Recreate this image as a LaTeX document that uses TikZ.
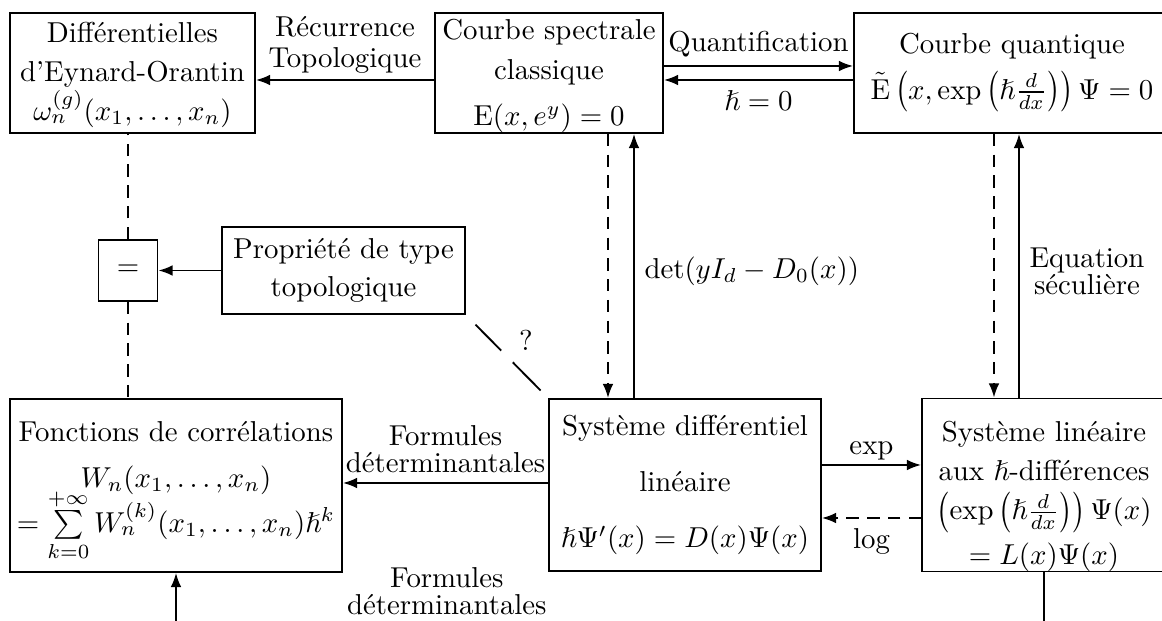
\documentclass[tikz,border=0pt]{standalone}
\usepackage{amsmath,amssymb}
\usepackage{graphicx}
\usepackage{fontspec}
\usetikzlibrary{arrows.meta,calc}
\newcommand\lpar{\mathopen{\vcenter{\hbox{\scalebox{1}[1.18]{$\bigl($}}}}}
\newcommand\rpar{\mathclose{\vcenter{\hbox{\scalebox{1}[1.18]{$\bigr)$}}}}}
\begin{document}
\begin{tikzpicture}[x=0.3472pt,y=-0.3472pt,
  bx/.style 2 args={draw, line width=0.65pt, minimum width=#1*0.3472pt, minimum height=#2*0.3472pt, align=center, inner sep=0pt},
  conn/.style={line width=0.65pt, -{Latex[length=4.9pt,width=3.7pt]}},
  plain/.style={line width=0.65pt},
  dsh/.style={dash pattern=on 4.3pt off 2.9pt},
  lbl/.style={align=center, inner sep=3.33pt}]
\useasboundingbox (0,0) rectangle (1162,621);
\node[bx={245}{120}] (A) at (132.5,73) {\rule{0pt}{8.3pt}Différentielles\\[1.5pt]d'Eynard-Orantin\\$\omega_n^{(g)}(x_1,\ldots,x_n)$};
\node[bx={228}{120}] (B) at (549,73) {\rule{0pt}{9pt}Courbe spectrale\\[2pt]classique\\[4pt]$\mathrm{E}(x,e^{y})=0$};
\node[bx={316}{120}] (C) at (1012,73) {Courbe quantique\\[3.7pt]$\tilde{\mathrm{E}}\mathinner{\lpar x,\exp\mathinner{\lpar\hslash\frac{d}{dx}\rpar}\rpar}\Psi=0$};
\node[bx={59}{61}] (Eq) at (128,270.5) {$=$};
\node[bx={243}{87}] (P) at (343.5,270.5) {Propriété de type\\[1pt]topologique};
\node[bx={332}{173}] (F) at (176,485.5) {\rule{0pt}{11pt}Fonctions de corrélations\\[4pt]$W_n(x_1,\ldots,x_n)$\\[3.5pt]$\smash[t]{=\sum\limits_{k=0}^{+\infty}W_n^{(k)}(x_1,\ldots,x_n)\hslash^k}$};
\node[bx={272}{172}] (S) at (685,485) {Système différentiel\\[7.5pt]linéaire\\[7.5pt]$\hslash\Psi'(x)=D(x)\Psi(x)$};
\node[bx={244}{172}] (L) at (1044,485) {\rule{0pt}{15pt}Système linéaire\\[1.5pt]aux $\hslash$-différences\\[1.5pt]$\mathinner{\lpar\exp\mathinner{\lpar\hslash\frac{d}{dx}\rpar}\rpar}\Psi(x)$\\[2.5pt]$=L(x)\Psi(x)$};

\draw[conn] (B.west |- 0,80) -- node[lbl, above, yshift=-1.5pt]{Récurrence\\[-1pt]Topologique} (A.east |- 0,80);
\draw[conn] (B.east |- 0,66) -- node[lbl, above, yshift=-0.7pt]{Quantification} (C.west |- 0,66);
\draw[conn] (C.west |- 0,80) -- node[lbl, below]{$\hslash=0$} (B.east |- 0,80);
\draw[conn,dsh] (B.south -| 608,0) -- (S.north -| 608,0);
\draw[conn] (S.north -| 634,0) -- node[lbl, right, pos=0.48]{$\det(yI_d-D_0(x))$} (B.south -| 634,0);
\draw[conn,dsh] (C.south -| 994,0) -- (L.north -| 994,0);
\draw[conn] (L.north -| 1019,0) -- node[lbl, right, pos=0.48]{Equation\\[-2.7pt]séculière} (C.south -| 1019,0);
\draw[conn] (S.east |- 0,465) -- node[lbl, above, yshift=-2pt]{$\exp$} (L.west |- 0,465);
\draw[conn,dsh] (L.west |- 0,518) -- node[lbl, below]{$\log$} (S.east |- 0,518);
\draw[conn] (S.west |- 0,483) -- node[lbl, above]{Formules\\[-2.7pt]déterminantales} (F.east |- 0,483);
\draw[conn] (L.south) -- (L.south |- 0,625) -- node[lbl, above, pos=0.688]{Formules\\[-2.7pt]déterminantales} (F.south |- 0,625) -- (F.south);
\draw[conn] (P.west) -- (Eq.east);
\draw[plain,dsh] (Eq.north) -- (Eq.north |- A.south);
\draw[plain,dsh] (Eq.south) -- (Eq.south |- F.north);
\draw[plain, shorten <=4.7pt, shorten >=3.7pt] (P.south east) -- node[fill=white, circle, inner sep=0pt, minimum size=5.7pt]{} node[xshift=6.6pt, yshift=5.5pt]{?} (S.north west);
\end{tikzpicture}
\end{document}
